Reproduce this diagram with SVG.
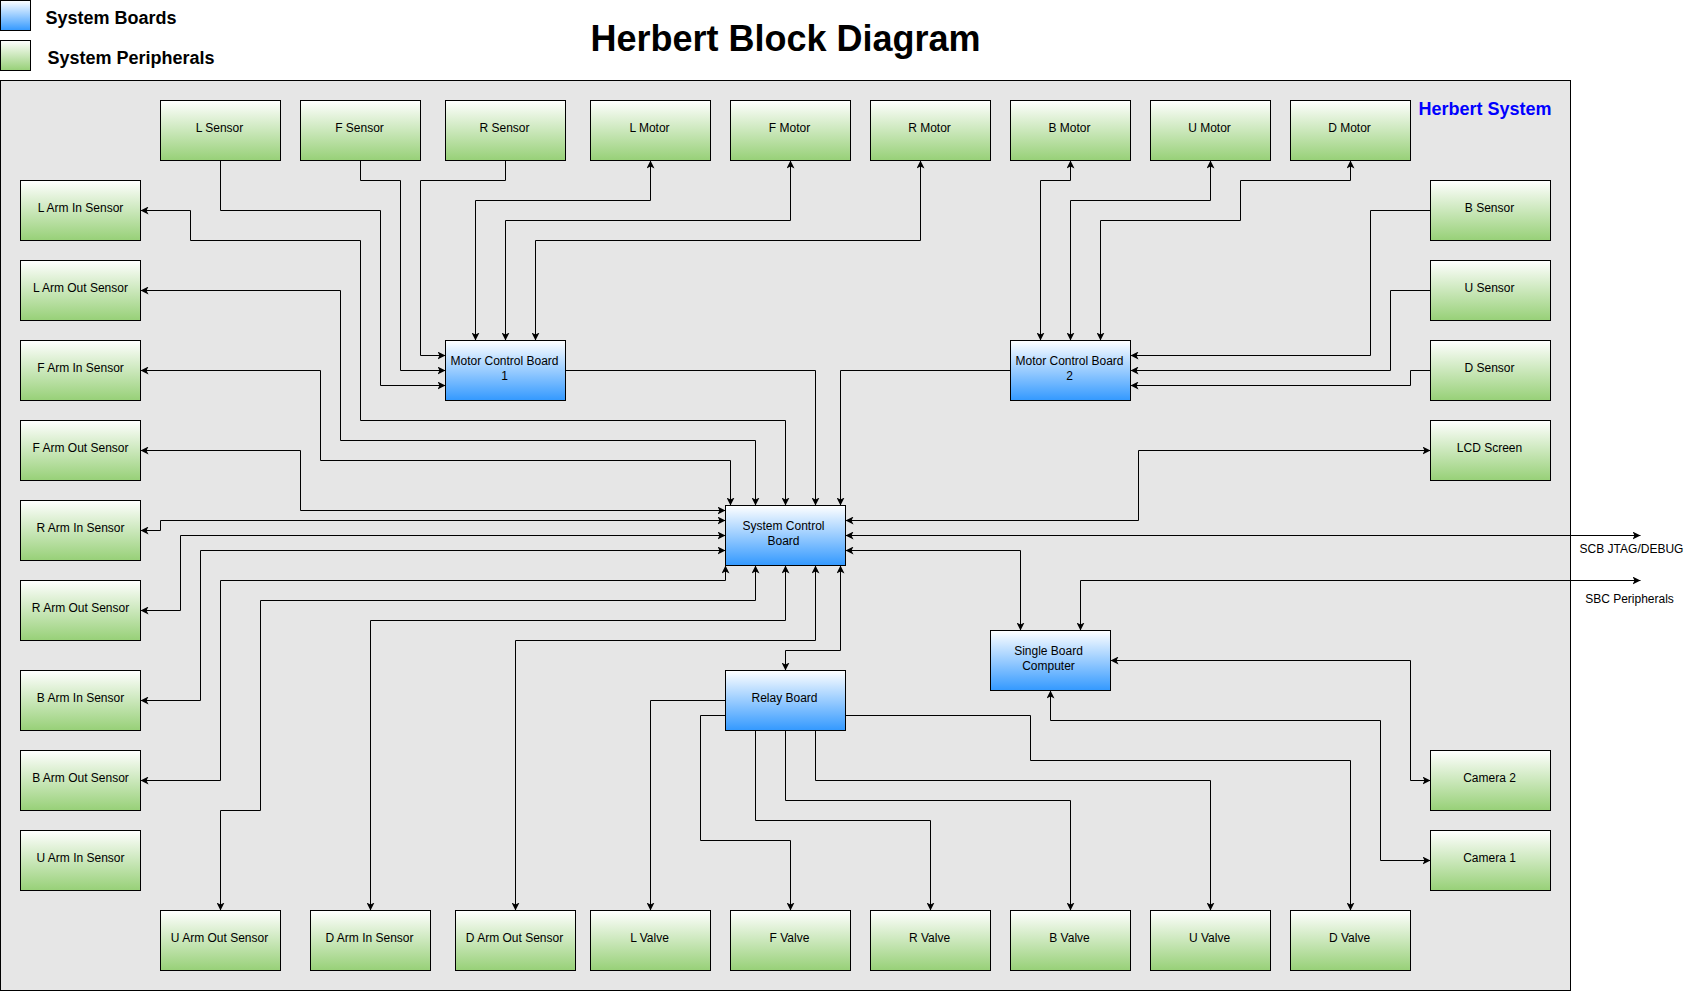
<svg xmlns="http://www.w3.org/2000/svg" width="1688" height="994" viewBox="0 0 1688 994">
<defs>
<linearGradient id="gGreen" x1="0" y1="0" x2="0" y2="1"><stop offset="0" stop-color="#ffffff"/><stop offset="1" stop-color="#97d077"/></linearGradient>
<linearGradient id="gBlue" x1="0" y1="0" x2="0" y2="1"><stop offset="0" stop-color="#ffffff"/><stop offset="1" stop-color="#3399ff"/></linearGradient>
<marker id="arr" viewBox="0 0 8 8" refX="8" refY="4" markerWidth="8" markerHeight="8" markerUnits="userSpaceOnUse" orient="auto-start-reverse"><path d="M0,0 L8,4 L0,8 L2,4 z" fill="#000"/></marker>
</defs>
<style>
.periph{fill:url(#gGreen);stroke:#000;stroke-width:1}
.board{fill:url(#gBlue);stroke:#000;stroke-width:1}
.lbl{font-family:"Liberation Sans",Arial,sans-serif;font-size:12px;text-anchor:middle;fill:#000}
.wire{fill:none;stroke:#000;stroke-width:1}
.e{marker-end:url(#arr)}
.b{marker-start:url(#arr);marker-end:url(#arr)}
.leg{font-family:"Liberation Sans",Arial,sans-serif;font-size:18px;font-weight:bold;fill:#000}
</style>
<rect width="1688" height="994" fill="#ffffff"/>
<g transform="translate(0.5,0.5)">
<g id="legend">
<rect class="board" x="0" y="0" width="30" height="30"/>
<rect class="periph" x="0" y="40" width="30" height="30"/>
<text class="leg" x="45" y="23">System Boards</text>
<text class="leg" x="47" y="63">System Peripherals</text>
</g>
<text id="title" x="785" y="50" font-family="'Liberation Sans',Arial,sans-serif" font-size="36" font-weight="bold" text-anchor="middle" fill="#000">Herbert Block Diagram</text>
<g id="herbert-system">
<rect x="0" y="80" width="1570" height="910" fill="#e6e6e6" stroke="#000"/>
<text x="1418" y="114" font-family="'Liberation Sans',Arial,sans-serif" font-size="18" font-weight="bold" fill="#0000ff">Herbert System</text>
</g>
<g id="connectors">
<path class="wire e" d="M220,160 V210 H380 V385 H445"/>
<path class="wire e" d="M360,160 V180 H400 V370 H445"/>
<path class="wire e" d="M505,160 V180 H420 V355 H445"/>
<path class="wire b" d="M475,340 V200 H650 V160"/>
<path class="wire b" d="M505,340 V220 H790 V160"/>
<path class="wire b" d="M535,340 V240 H920 V160"/>
<path class="wire b" d="M1040,340 V180 H1070 V160"/>
<path class="wire b" d="M1070,340 V200 H1210 V160"/>
<path class="wire b" d="M1100,340 V220 H1240 V180 H1350 V160"/>
<path class="wire e" d="M1430,210 H1370 V355 H1130"/>
<path class="wire e" d="M1430,290 H1390 V370 H1130"/>
<path class="wire e" d="M1430,370 H1410 V385 H1130"/>
<path class="wire e" d="M565,370 H815 V505"/>
<path class="wire e" d="M1010,370 H840 V505"/>
<path class="wire b" d="M785,505 V420 H360 V240 H190 V210 H140"/>
<path class="wire b" d="M755,505 V440 H340 V290 H140"/>
<path class="wire b" d="M730,505 V460 H320 V370 H140"/>
<path class="wire b" d="M725,510 H300 V450 H140"/>
<path class="wire b" d="M725,520 H160 V530 H140"/>
<path class="wire b" d="M725,535 H180 V610 H140"/>
<path class="wire b" d="M725,550 H200 V700 H140"/>
<path class="wire b" d="M725,565 V580 H220 V780 H140"/>
<path class="wire b" d="M755,565 V600 H260 V810 H220 V910"/>
<path class="wire b" d="M785,565 V620 H370 V910"/>
<path class="wire b" d="M815,565 V640 H515 V910"/>
<path class="wire b" d="M840,565 V650 H785 V670"/>
<path class="wire b" d="M845,520 H1138 V450 H1430"/>
<path class="wire b" d="M845,535 H1640"/>
<path class="wire b" d="M845,550 H1020 V630"/>
<path class="wire b" d="M1080,630 V580 H1640"/>
<path class="wire b" d="M1110,660 H1410 V780 H1430"/>
<path class="wire b" d="M1050,690 V720 H1380 V860 H1430"/>
<path class="wire e" d="M725,700 H650 V910"/>
<path class="wire e" d="M725,715 H700 V840 H790 V910"/>
<path class="wire e" d="M755,730 V820 H930 V910"/>
<path class="wire e" d="M785,730 V800 H1070 V910"/>
<path class="wire e" d="M815,730 V780 H1210 V910"/>
<path class="wire e" d="M845,715 H1030 V760 H1350 V910"/>
<text class="lbl" x="1631" y="552">SCB JTAG/DEBUG</text>
<text class="lbl" x="1629" y="602">SBC Peripherals</text>
</g>
<g id="l-sensor"><rect class="periph" x="160" y="100" width="120" height="60"/><text class="lbl" x="219" y="131">L Sensor</text></g>
<g id="f-sensor"><rect class="periph" x="300" y="100" width="120" height="60"/><text class="lbl" x="359" y="131">F Sensor</text></g>
<g id="r-sensor"><rect class="periph" x="445" y="100" width="120" height="60"/><text class="lbl" x="504" y="131">R Sensor</text></g>
<g id="l-motor"><rect class="periph" x="590" y="100" width="120" height="60"/><text class="lbl" x="649" y="131">L Motor</text></g>
<g id="f-motor"><rect class="periph" x="730" y="100" width="120" height="60"/><text class="lbl" x="789" y="131">F Motor</text></g>
<g id="r-motor"><rect class="periph" x="870" y="100" width="120" height="60"/><text class="lbl" x="929" y="131">R Motor</text></g>
<g id="b-motor"><rect class="periph" x="1010" y="100" width="120" height="60"/><text class="lbl" x="1069" y="131">B Motor</text></g>
<g id="u-motor"><rect class="periph" x="1150" y="100" width="120" height="60"/><text class="lbl" x="1209" y="131">U Motor</text></g>
<g id="d-motor"><rect class="periph" x="1290" y="100" width="120" height="60"/><text class="lbl" x="1349" y="131">D Motor</text></g>
<g id="l-arm-in-sensor"><rect class="periph" x="20" y="180" width="120" height="60"/><text class="lbl" x="80" y="211">L Arm In Sensor</text></g>
<g id="l-arm-out-sensor"><rect class="periph" x="20" y="260" width="120" height="60"/><text class="lbl" x="80" y="291">L Arm Out Sensor</text></g>
<g id="f-arm-in-sensor"><rect class="periph" x="20" y="340" width="120" height="60"/><text class="lbl" x="80" y="371">F Arm In Sensor</text></g>
<g id="f-arm-out-sensor"><rect class="periph" x="20" y="420" width="120" height="60"/><text class="lbl" x="80" y="451">F Arm Out Sensor</text></g>
<g id="r-arm-in-sensor"><rect class="periph" x="20" y="500" width="120" height="60"/><text class="lbl" x="80" y="531">R Arm In Sensor</text></g>
<g id="r-arm-out-sensor"><rect class="periph" x="20" y="580" width="120" height="60"/><text class="lbl" x="80" y="611">R Arm Out Sensor</text></g>
<g id="b-arm-in-sensor"><rect class="periph" x="20" y="670" width="120" height="60"/><text class="lbl" x="80" y="701">B Arm In Sensor</text></g>
<g id="b-arm-out-sensor"><rect class="periph" x="20" y="750" width="120" height="60"/><text class="lbl" x="80" y="781">B Arm Out Sensor</text></g>
<g id="u-arm-in-sensor"><rect class="periph" x="20" y="830" width="120" height="60"/><text class="lbl" x="80" y="861">U Arm In Sensor</text></g>
<g id="b-sensor"><rect class="periph" x="1430" y="180" width="120" height="60"/><text class="lbl" x="1489" y="211">B Sensor</text></g>
<g id="u-sensor"><rect class="periph" x="1430" y="260" width="120" height="60"/><text class="lbl" x="1489" y="291">U Sensor</text></g>
<g id="d-sensor"><rect class="periph" x="1430" y="340" width="120" height="60"/><text class="lbl" x="1489" y="371">D Sensor</text></g>
<g id="lcd-screen"><rect class="periph" x="1430" y="420" width="120" height="60"/><text class="lbl" x="1489" y="451">LCD Screen</text></g>
<g id="camera-2"><rect class="periph" x="1430" y="750" width="120" height="60"/><text class="lbl" x="1489" y="781">Camera 2</text></g>
<g id="camera-1"><rect class="periph" x="1430" y="830" width="120" height="60"/><text class="lbl" x="1489" y="861">Camera 1</text></g>
<g id="u-arm-out-sensor"><rect class="periph" x="160" y="910" width="120" height="60"/><text class="lbl" x="219" y="941">U Arm Out Sensor</text></g>
<g id="d-arm-in-sensor"><rect class="periph" x="310" y="910" width="120" height="60"/><text class="lbl" x="369" y="941">D Arm In Sensor</text></g>
<g id="d-arm-out-sensor"><rect class="periph" x="455" y="910" width="120" height="60"/><text class="lbl" x="514" y="941">D Arm Out Sensor</text></g>
<g id="l-valve"><rect class="periph" x="590" y="910" width="120" height="60"/><text class="lbl" x="649" y="941">L Valve</text></g>
<g id="f-valve"><rect class="periph" x="730" y="910" width="120" height="60"/><text class="lbl" x="789" y="941">F Valve</text></g>
<g id="r-valve"><rect class="periph" x="870" y="910" width="120" height="60"/><text class="lbl" x="929" y="941">R Valve</text></g>
<g id="b-valve"><rect class="periph" x="1010" y="910" width="120" height="60"/><text class="lbl" x="1069" y="941">B Valve</text></g>
<g id="u-valve"><rect class="periph" x="1150" y="910" width="120" height="60"/><text class="lbl" x="1209" y="941">U Valve</text></g>
<g id="d-valve"><rect class="periph" x="1290" y="910" width="120" height="60"/><text class="lbl" x="1349" y="941">D Valve</text></g>
<g id="motor-control-board-1"><rect class="board" x="445" y="340" width="120" height="60"/><text class="lbl" x="504" y="364">Motor Control Board</text><text class="lbl" x="504" y="379">1</text></g>
<g id="motor-control-board-2"><rect class="board" x="1010" y="340" width="120" height="60"/><text class="lbl" x="1069" y="364">Motor Control Board</text><text class="lbl" x="1069" y="379">2</text></g>
<g id="system-control-board"><rect class="board" x="725" y="505" width="120" height="60"/><text class="lbl" x="783" y="529">System Control</text><text class="lbl" x="783" y="544">Board</text></g>
<g id="relay-board"><rect class="board" x="725" y="670" width="120" height="60"/><text class="lbl" x="784" y="701">Relay Board</text></g>
<g id="single-board-computer"><rect class="board" x="990" y="630" width="120" height="60"/><text class="lbl" x="1048" y="654">Single Board</text><text class="lbl" x="1048" y="669">Computer</text></g>
</g>
</svg>
